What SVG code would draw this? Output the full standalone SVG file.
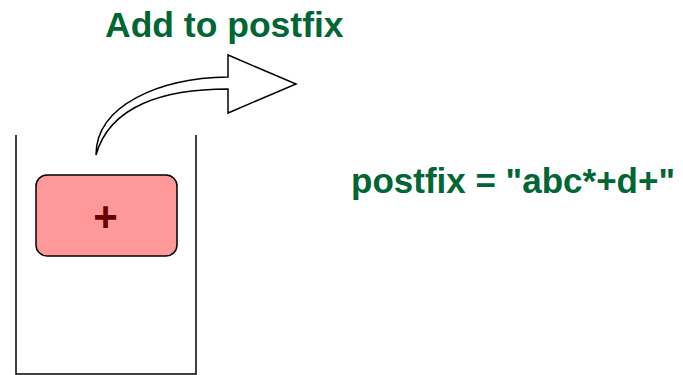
<svg xmlns="http://www.w3.org/2000/svg" width="683" height="375" viewBox="0 0 683 375">
<style>
.lbl{font-family:"Liberation Sans",Arial,sans-serif;font-weight:bold;fill:#006633}
.ln{fill:none;stroke:#000;stroke-width:1.5}
</style>
<rect width="683" height="375" fill="#fff"/>
<g id="stack">
<path class="ln" d="M16,135 L16,374 L196,374 L196,135"/>
</g>
<g id="node-plus">
<rect x="36" y="175" width="141" height="81" rx="11" ry="11" fill="#ff9999" stroke="#000" stroke-width="1.5"/>
<text x="105.5" y="231" text-anchor="middle" font-family="Liberation Sans, Arial, sans-serif" font-weight="bold" font-size="42" fill="#660000">+</text>
</g>
<g id="connectors">
<path d="M96,155 C96,105 160,78 228,77 L228,55 L296,84 L228,113 L228,89 C165,89 110,105 96,155 Z" fill="#fff" stroke="#000" stroke-width="1.5" stroke-linejoin="miter"/>
</g>
<g id="label-add">
<text class="lbl" x="105" y="37" font-size="35.5">Add to postfix</text>
</g>
<g id="label-postfix">
<text class="lbl" x="351" y="193" font-size="35">postfix = "abc*+d+"</text>
</g>
</svg>
